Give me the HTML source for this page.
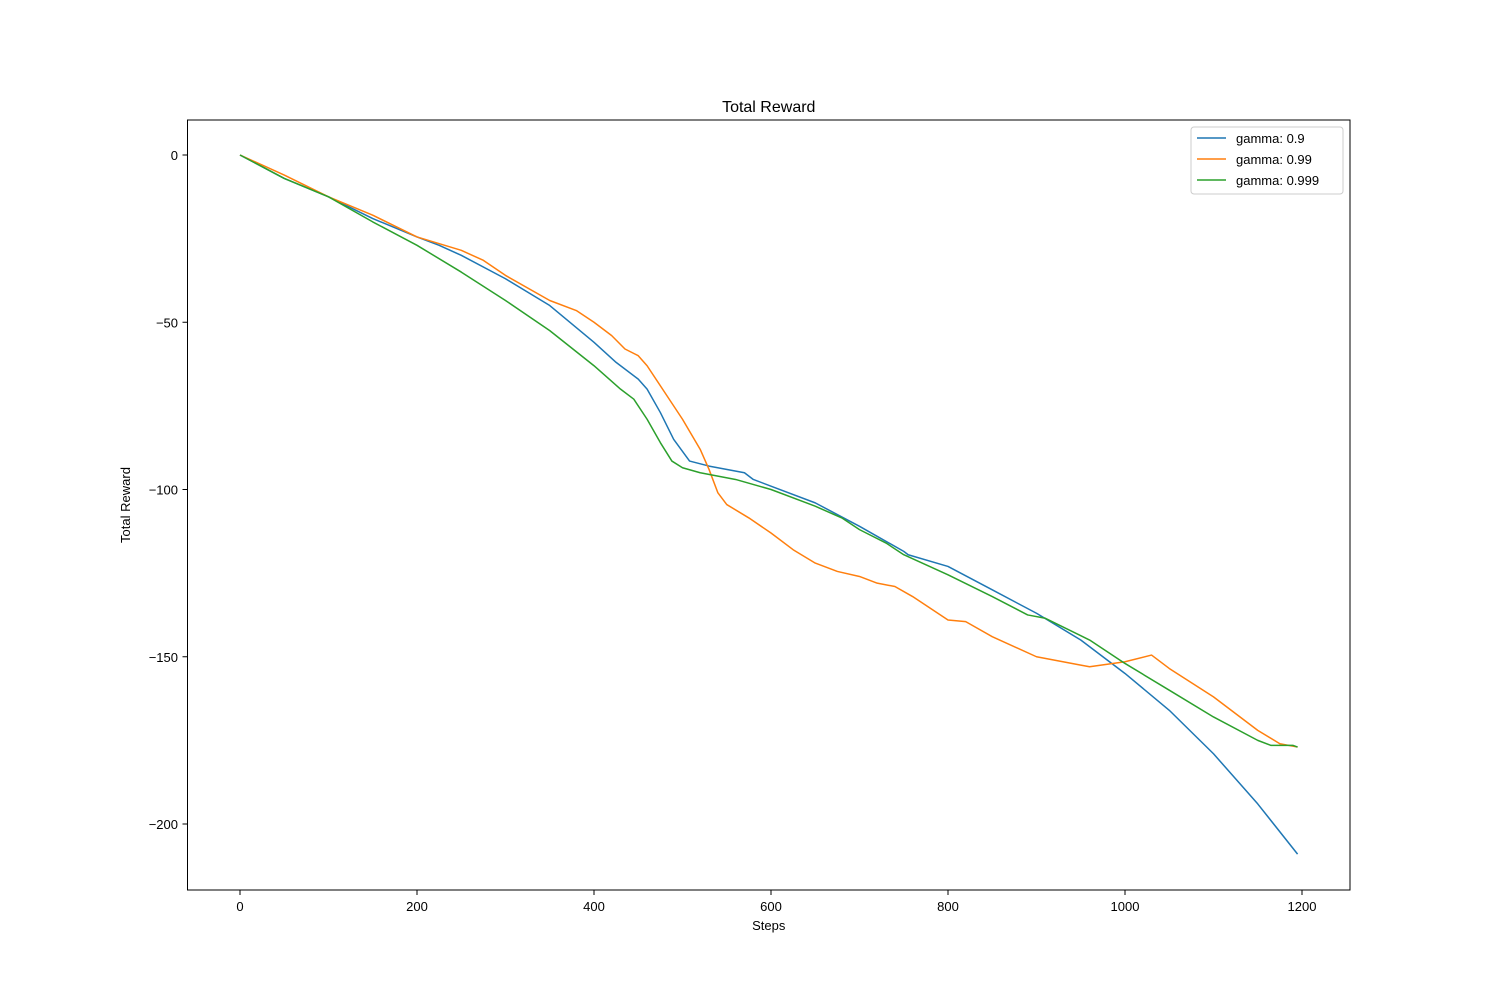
<!DOCTYPE html>
<html><head><meta charset="utf-8"><style>
body{margin:0;background:#fff}
svg text{font-family:"Liberation Sans","DejaVu Sans",sans-serif;fill:#000}
</style></head><body>
<svg id="chart" width="1500" height="1000" xmlns="http://www.w3.org/2000/svg">
<rect width="1500" height="1000" fill="#fff"/>
<text x="768.75" y="112" font-size="16" text-anchor="middle">Total Reward</text>
<g id="plot"></g>
<rect x="187.5" y="120" width="1162.5" height="770" fill="none" stroke="#000" stroke-width="1"/>
<text x="768.75" y="930" font-size="13" text-anchor="middle">Steps</text>
<text x="130" y="505" font-size="13" text-anchor="middle" transform="rotate(-90 130 505)">Total Reward</text>
<g>
<rect x="1191" y="127" width="152" height="67" rx="3" fill="#fff" stroke="#ccc"/>
<g><line x1="1197" y1="138" x2="1226" y2="138" stroke="#1f77b4" stroke-width="1.5"/><text x="1236" y="143" font-size="13">gamma: 0.9</text></g>
<g><line x1="1197" y1="159" x2="1226" y2="159" stroke="#ff7f0e" stroke-width="1.5"/><text x="1236" y="164" font-size="13">gamma: 0.99</text></g>
<g><line x1="1197" y1="180" x2="1226" y2="180" stroke="#2ca02c" stroke-width="1.5"/><text x="1236" y="185" font-size="13">gamma: 0.999</text></g>
</g>
</svg>
<script>
const xTicks=[0,200,400,600,800,1000,1200];
const yTicks=[0,-50,-100,-150,-200];
const yTickLabels=["0","\u221250","\u2212100","\u2212150","\u2212200"];
const blueX=[0,50,100,150,200,225,250,300,350,400,425,450,460,475,490,508,530,570,580,600,650,700,750,755,800,850,900,950,1000,1050,1100,1150,1195];
const blueY=[0,-7,-12.5,-19,-24.5,-27,-30,-37,-45,-56,-62,-67,-70,-77,-85,-91.5,-93,-95,-97,-99,-104,-111,-118.5,-119.5,-123,-130,-137,-145,-155,-166,-179,-194,-209];
const orangeX=[0,50,100,150,200,250,275,300,350,380,400,420,435,450,460,480,500,520,530,540,550,575,600,625,650,675,700,720,740,760,800,820,850,900,950,960,1000,1030,1050,1100,1125,1150,1175,1195];
const orangeY=[0,-6,-12.5,-18,-24.5,-28.5,-31.5,-36,-43.5,-46.5,-50,-54,-58,-60,-63,-71,-79,-88,-94,-101,-104.5,-108.5,-113,-118,-122,-124.5,-126,-128,-129,-132,-139,-139.5,-144,-150,-152.5,-153,-151.5,-149.5,-153.5,-162,-167,-172,-176,-177];
const greenX=[0,50,100,150,200,250,300,350,400,430,445,460,475,488,500,520,560,600,650,680,700,730,750,800,850,890,910,960,1000,1050,1100,1150,1165,1190,1195];
const greenY=[0,-7,-12.5,-20,-27,-35,-43.5,-52.5,-63,-70,-73,-79,-86,-91.5,-93.5,-95,-97,-100,-105,-108.5,-112,-116,-119.5,-125.5,-132,-137.5,-138.5,-145,-152,-160,-168,-175,-176.5,-176.5,-177];
const NS="http://www.w3.org/2000/svg";
function xs(v){return 240+v*(1302-240)/1200;}
function ys(v){return 155+(-v)*(824-155)/200;}
const plot=document.getElementById('plot');
xTicks.forEach(t=>{
  const l=document.createElementNS(NS,'line');
  l.setAttribute('x1',xs(t));l.setAttribute('x2',xs(t));l.setAttribute('y1',890);l.setAttribute('y2',895);l.setAttribute('stroke','#000');
  
  
  plot.appendChild(l);
  const tx=document.createElementNS(NS,'text');
  tx.setAttribute('x',xs(t));tx.setAttribute('y',911);tx.setAttribute('font-size','13');tx.setAttribute('text-anchor','middle');tx.textContent=t;
  
  
  plot.appendChild(tx);
});
yTicks.forEach((t,i)=>{
  const l=document.createElementNS(NS,'line');
  l.setAttribute('x1',182.5);l.setAttribute('x2',187.5);l.setAttribute('y1',ys(t));l.setAttribute('y2',ys(t));l.setAttribute('stroke','#000');
  
  
  plot.appendChild(l);
  const tx=document.createElementNS(NS,'text');
  tx.setAttribute('x',178);tx.setAttribute('y',ys(t)+5);tx.setAttribute('font-size','13');tx.setAttribute('text-anchor','end');tx.textContent=yTickLabels[i];
  
  
  plot.appendChild(tx);
});
function line(X,Y,color,name){
  const p=document.createElementNS(NS,'polyline');
  p.setAttribute('points',X.map((x,i)=>xs(x)+','+ys(Y[i])).join(' '));
  p.setAttribute('fill','none');p.setAttribute('stroke',color);p.setAttribute('stroke-width','1.5');p.setAttribute('stroke-linejoin','round');
  
  
  plot.appendChild(p);
}
line(blueX,blueY,'#1f77b4','series-gamma-0.9');
line(orangeX,orangeY,'#ff7f0e','series-gamma-0.99');
line(greenX,greenY,'#2ca02c','series-gamma-0.999');
</script>
</body></html>
